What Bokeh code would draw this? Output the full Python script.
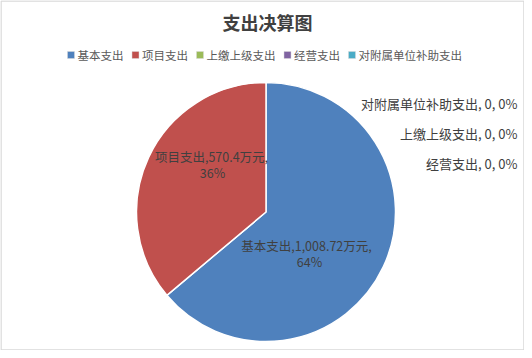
import math
from bokeh.plotting import figure
from bokeh.models import Range1d, ColumnDataSource
from bokeh.core.properties import value
from bokeh.embed import file_html
from bokeh.resources import INLINE

# ---- data ----
categories = ["基本支出", "项目支出", "上缴上级支出", "经营支出", "对附属单位补助支出"]
amounts = [1008.72, 570.4, 0, 0, 0]
colors = ["#4F81BD", "#C0504D", "#9BBB59", "#8064A2", "#4BACC6"]
title_text = "支出决算图"
unit = "万元"

W, H = 524, 350
FONT = "Noto Sans CJK SC"

def X(px):
    return px

def Y(py):
    return H - py

p = figure(width=W, height=H, output_backend="svg", toolbar_location=None,
           x_range=Range1d(0, W), y_range=Range1d(0, H), min_border=0)
p.axis.visible = False
p.grid.visible = False
p.outline_line_color = None
p.background_fill_color = "white"
p.border_fill_color = "white"

# ---- pie ----
total = sum(amounts)
cx, cy, R = X(265.5), Y(211.5), 129.5
starts, ends, cols = [], [], []
cum = 0.0
for a, c in zip(amounts, colors):
    s = math.pi / 2 - 2 * math.pi * cum / total
    cum += a
    e = math.pi / 2 - 2 * math.pi * cum / total
    if a > 0:
        starts.append(s)
        ends.append(e)
        cols.append(c)

src = ColumnDataSource(dict(start=starts, end=ends, color=cols,
                            x=[cx] * len(cols), y=[cy] * len(cols)))
p.wedge(x="x", y="y", radius=R, start_angle="start", end_angle="end",
        direction="clock", fill_color="color", line_color="white",
        line_width=1.5, source=src)

# ---- labels ----
pcts = [round(100 * a / total) for a in amounts]
label_color = "#404040"
fs_in = "12.5px"
fs_out = "13px"

inside_pos = {0: ((306, 245), (309, 261)), 1: ((211, 156), (212, 172))}
for i, (l1, l2) in inside_pos.items():
    t1 = f"{categories[i]},{amounts[i]:,}{unit},"
    t2 = f"{pcts[i]}%"
    p.text(x=[X(l1[0])], y=[Y(l1[1])], text=[t1], text_align="center",
           text_baseline="middle", text_font=value(FONT), text_font_size=fs_in,
           text_color=label_color)
    p.text(x=[X(l2[0])], y=[Y(l2[1])], text=[t2], text_align="center",
           text_baseline="middle", text_font=value(FONT), text_font_size=fs_in,
           text_color=label_color)

outside_y = {4: 103, 2: 133, 3: 163}
for i, py in outside_y.items():
    t = f"{categories[i]}, {amounts[i]:g}, {pcts[i]}%"
    p.text(x=[X(517)], y=[Y(py)], text=[t], text_align="right",
           text_baseline="middle", text_font=value(FONT), text_font_size=fs_out,
           text_color=label_color)

# ---- title ----
p.text(x=[X(267)], y=[Y(21)], text=[title_text], text_align="center",
       text_baseline="middle", text_font=value(FONT), text_font_size="18px",
       text_font_style="bold", text_color="#404040")

# ---- legend ----
char_w = 11.5
sx = 67
ly = 54.5
for name, col in zip(categories, colors):
    p.rect(x=[X(sx + 3.5)], y=[Y(ly)], width=7, height=7, fill_color=col,
           line_color="#D9D9D9", line_width=0.5)
    tx = sx + 10
    p.text(x=[X(tx)], y=[Y(ly)], text=[name], text_align="left",
           text_baseline="middle", text_font=value(FONT), text_font_size="11.5px",
           text_color="#595959")
    sx = tx + char_w * len(name) + 8.5

# ---- frame border ----
p.line(x=[0.5, W - 0.5, W - 0.5, 0.5, 0.5], y=[H - 0.5, H - 0.5, 0.5, 0.5, H - 0.5],
       line_color="#D9D9D9", line_width=1.5)

open("out.html", "w").write(file_html(p, INLINE))
